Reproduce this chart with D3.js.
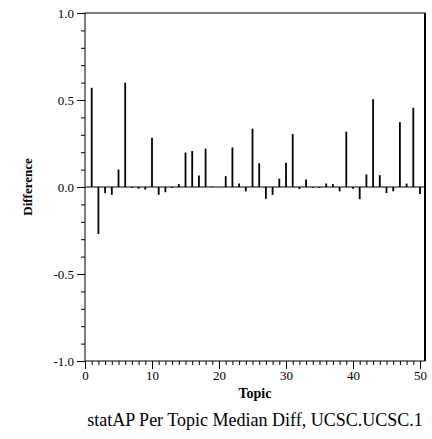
<!DOCTYPE html>
<html lang="en">
<head>
<meta charset="utf-8"/>
<title>statAP Per Topic Median Diff</title>
<script src="https://d3js.org/d3.v7.min.js"></script>
<style>
body { margin: 0; background: #fff; }
text { font-family: "Liberation Serif", "DejaVu Serif", serif; fill: #000; }
.tick text { font-size: 13px; }
.axis path, .axis line { stroke: #000; }
.needle { stroke: #000; stroke-width: 1.8; }
.frame { stroke: #000; fill: none; }
</style>
</head>
<body>
<div id="chart"></div>
<script>
// values, topics 1..50
var topics = d3.range(1, 51);
var diffs = [
   0.57, -0.27, -0.035, -0.045, 0.10, 0.60, -0.005, -0.01, -0.015, 0.283,
  -0.045, -0.03, -0.005, 0.017, 0.198, 0.207, 0.066, 0.221, 0.003, 0.0,
   0.062, 0.227, 0.02, -0.025, 0.335, 0.136, -0.068, -0.045, 0.048, 0.14,
   0.304, -0.012, 0.043, -0.005, -0.005, 0.02, 0.017, -0.025, 0.318, -0.01,
  -0.07, 0.072, 0.504, 0.068, -0.035, -0.025, 0.372, 0.02, 0.455, -0.04
];
var xTicks = [0, 10, 20, 30, 40, 50];
var yTicks = [-1.0, -0.5, 0.0, 0.5, 1.0];

function drawChart(){
   var w = 432, h = 439;
   var pLeft = 85, pRight = 425, pTop = 13, pBottom = 361;

   var svg = d3.select("#chart").append("svg")
      .attr("width", w)
      .attr("height", h);

   var xScale = d3.scaleLinear().domain([0, 50]).range([pLeft, 420]);
   var yScale = d3.scaleLinear().domain([-1, 1]).range([pBottom, pTop]);

   // needles from zero
   svg.selectAll(".needle")
      .data(topics)
      .enter()
      .append("line")
      .attr("class", "needle")
      .attr("x1", function(d){ return xScale(d); })
      .attr("x2", function(d){ return xScale(d); })
      .attr("y1", yScale(0))
      .attr("y2", function(d, i){ return yScale(diffs[i]); });

   // zero line
   svg.append("line")
      .attr("stroke", "#000")
      .attr("x1", pLeft).attr("x2", pRight)
      .attr("y1", yScale(0)).attr("y2", yScale(0));

   // minor ticks
   var xAxisMinor = d3.axisBottom(xScale).tickValues(d3.range(0, 51)).tickSize(4).tickFormat("");
   svg.append("g").attr("class", "axis")
      .attr("transform", "translate(0," + pBottom + ")")
      .call(xAxisMinor)
      .select(".domain").remove();

   var yAxisMinor = d3.axisLeft(yScale).tickValues(d3.range(-10, 11).map(function(v){ return v / 10; })).tickSize(4).tickFormat("");
   svg.append("g").attr("class", "axis")
      .attr("transform", "translate(" + pLeft + ",0)")
      .call(yAxisMinor)
      .select(".domain").remove();

   // major ticks with labels (plain hyphen for negatives)
   var xAxis = d3.axisBottom(xScale).tickValues(xTicks).tickSize(8).tickPadding(2)
      .tickFormat(function(d){ return String(d); });
   svg.append("g").attr("class", "axis")
      .attr("transform", "translate(0," + pBottom + ")")
      .call(xAxis)
      .select(".domain").remove();

   var yAxis = d3.axisLeft(yScale).tickValues(yTicks).tickSize(8).tickPadding(3)
      .tickFormat(function(d){ return d.toFixed(1); });
   svg.append("g").attr("class", "axis")
      .attr("transform", "translate(" + pLeft + ",0)")
      .call(yAxis)
      .select(".domain").remove();

   // frame
   svg.append("rect")
      .attr("class", "frame")
      .attr("x", pLeft).attr("y", pTop)
      .attr("width", pRight - pLeft).attr("height", pBottom - pTop);
   svg.append("line")
      .attr("stroke", "#000").attr("stroke-width", 2)
      .attr("x1", pRight).attr("x2", pRight)
      .attr("y1", pTop).attr("y2", pBottom);

   // labels
   svg.append("text")
      .attr("x", (pLeft + pRight) / 2).attr("y", 398)
      .attr("text-anchor", "middle")
      .attr("font-weight", "bold").attr("font-size", "14px")
      .text("Topic");

   svg.append("text")
      .attr("transform", "translate(32," + yScale(0) + ") rotate(-90)")
      .attr("text-anchor", "middle")
      .attr("font-weight", "bold").attr("font-size", "13px")
      .text("Difference");

   svg.append("text")
      .attr("x", (pLeft + pRight) / 2).attr("y", 426)
      .attr("text-anchor", "middle")
      .attr("font-size", "18px")
      .text("statAP Per Topic Median Diff, UCSC.UCSC.1");
}

drawChart();
</script>
</body>
</html>
